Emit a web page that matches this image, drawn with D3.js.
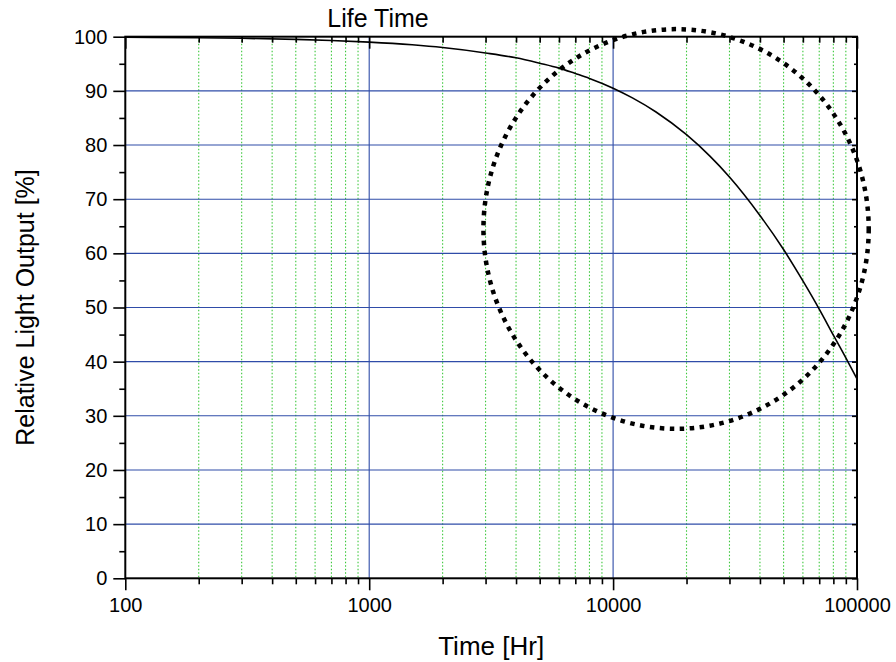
<!DOCTYPE html>
<html><head><meta charset="utf-8">
<script src="https://cdn.jsdelivr.net/npm/d3@7/dist/d3.min.js"></script>
<style>
html,body{margin:0;padding:0;background:#fff;}
svg{display:block;font-family:"Liberation Sans",Arial,sans-serif;}
</style></head>
<body>
<svg id="chart" width="896" height="662"></svg>
<script>
// ---- data ----
const times  = [100, 200, 300, 500, 700, 1000, 1500, 2000, 3000, 4000, 5000, 6000, 7000, 8000, 10000, 12000, 15000, 20000, 25000, 30000, 40000, 50000, 60000, 70000, 80000, 90000, 100000];
const output = [99.9, 99.8, 99.7, 99.5, 99.3, 99.0, 98.5, 98.0, 97.0, 96.1, 95.1, 94.2, 93.2, 92.3, 90.5, 88.7, 86.1, 81.9, 77.9, 74.1, 67.0, 60.7, 54.9, 49.7, 44.9, 40.7, 36.8];
const xTickValues = [100, 1000, 10000, 100000];
const xTickLabels = ["100", "1000", "10000", "100000"];
const yTickValues = [0, 10, 20, 30, 40, 50, 60, 70, 80, 90, 100];
const yMinorTicks = [5, 15, 25, 35, 45, 55, 65, 75, 85, 95];
const xMinorTicks = [200,300,400,500,600,700,800,900,2000,3000,4000,5000,6000,7000,8000,9000,20000,30000,40000,50000,60000,70000,80000,90000];
// highlighted region (dotted ellipse), in data units: time extent and output extent
const highlightTime = [2940, 111700];
const highlightOutput = [27.6, 101.4];
const titleText = "Life Time";
const xTitle = "Time [Hr]";
const yTitle = "Relative Light Output [%]";

// ---- layout ----
const L = 125.3, R = 857, T = 36.7, B = 578.3;
const svg = d3.select("#chart");
const x = d3.scaleLog().domain([100, 100000]).range([L, R]);
const y = d3.scaleLinear().domain([0, 100]).range([B, T]);

const blue = "#2f4ca8", green = "#3cc83c";

// minor vertical grid (green dotted)
svg.append("g").selectAll("line").data(xMinorTicks).join("line")
  .attr("x1", d => x(d)).attr("x2", d => x(d)).attr("y1", T).attr("y2", B)
  .attr("stroke", green).attr("stroke-width", 1.1).attr("stroke-dasharray", "1.5,2");

// major vertical grid
svg.append("g").selectAll("line").data([1000, 10000]).join("line")
  .attr("x1", d => x(d)).attr("x2", d => x(d)).attr("y1", T).attr("y2", B)
  .attr("stroke", blue).attr("stroke-width", 1.1);

// major horizontal grid
svg.append("g").selectAll("line").data(yTickValues.filter(v => v > 0 && v < 100)).join("line")
  .attr("x1", L).attr("x2", R).attr("y1", d => y(d)).attr("y2", d => y(d))
  .attr("stroke", blue).attr("stroke-width", 1.1);

// curve
const pts = times.map((t, i) => [t, output[i]]);
svg.append("path").datum(pts)
  .attr("fill", "none").attr("stroke", "#000").attr("stroke-width", 1.6)
  .attr("d", d3.line().x(d => x(d[0])).y(d => y(d[1])).curve(d3.curveMonotoneX));

// axes
const fs = "20px";
svg.append("g").attr("transform", `translate(0,${B})`)
  .call(d3.axisBottom(x).tickValues(xTickValues).tickFormat((d, i) => xTickLabels[i]).tickSize(12).tickSizeOuter(0).tickPadding(8));
svg.append("g").attr("transform", `translate(0,${B})`)
  .call(d3.axisBottom(x).tickValues(xMinorTicks).tickFormat("").tickSize(6).tickSizeOuter(0));
svg.append("g").attr("transform", `translate(${L},0)`)
  .call(d3.axisLeft(y).tickValues(yTickValues).tickSize(12).tickSizeOuter(0).tickPadding(6));
svg.append("g").attr("transform", `translate(${L},0)`)
  .call(d3.axisLeft(y).tickValues(yMinorTicks).tickFormat("").tickSize(6).tickSizeOuter(0));
// top (inward ticks)
svg.append("g").attr("transform", `translate(0,${T})`)
  .call(d3.axisBottom(x).tickValues(xTickValues).tickFormat("").tickSize(12).tickSizeOuter(0));
svg.append("g").attr("transform", `translate(0,${T})`)
  .call(d3.axisBottom(x).tickValues(xMinorTicks).tickFormat("").tickSize(6).tickSizeOuter(0));
// right (inward ticks)
svg.append("g").attr("transform", `translate(${R},0)`)
  .call(d3.axisLeft(y).tickValues(yTickValues).tickFormat("").tickSize(5).tickSizeOuter(0));
svg.append("g").attr("transform", `translate(${R},0)`)
  .call(d3.axisLeft(y).tickValues(yMinorTicks).tickFormat("").tickSize(3).tickSizeOuter(0));

svg.selectAll(".domain").remove();
svg.selectAll(".tick line").attr("stroke", "#000").attr("stroke-width", 1.6);
svg.selectAll(".tick text").attr("font-size", fs).attr("fill", "#000")
  .attr("font-family", '"Liberation Sans",Arial,sans-serif');

// frame
svg.append("rect").attr("x", L).attr("y", T).attr("width", R - L).attr("height", B - T)
  .attr("fill", "none").attr("stroke", "#000").attr("stroke-width", 2);

// dotted ellipse
const ex0 = x(highlightTime[0]), ex1 = x(highlightTime[1]);
const ey0 = y(highlightOutput[1]), ey1 = y(highlightOutput[0]);
svg.append("ellipse")
  .attr("cx", (ex0 + ex1) / 2).attr("cy", (ey0 + ey1) / 2)
  .attr("rx", (ex1 - ex0) / 2).attr("ry", (ey1 - ey0) / 2)
  .attr("fill", "none").attr("stroke", "#000").attr("stroke-width", 4.5)
  .attr("stroke-dasharray", "4.5,5.5");

// titles
svg.append("text").attr("x", 378).attr("y", 27).attr("text-anchor", "middle")
  .attr("font-size", "25px").text(titleText);
svg.append("text").attr("x", (L + R) / 2).attr("y", 655).attr("text-anchor", "middle")
  .attr("font-size", "26px").text(xTitle);
svg.append("text").attr("transform", `translate(34,${(T + B) / 2}) rotate(-90)`)
  .attr("text-anchor", "middle").attr("font-size", "25px").text(yTitle);
</script>
</body></html>
